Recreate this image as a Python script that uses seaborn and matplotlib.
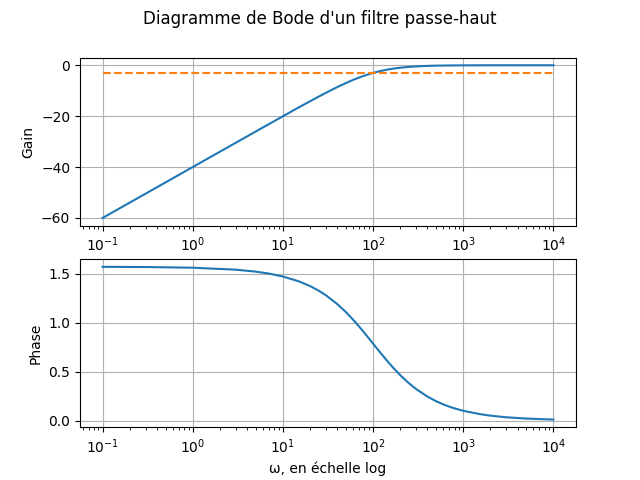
import numpy as np
import pandas as pd
import matplotlib
matplotlib.use("Agg")
import matplotlib.pyplot as plt
import seaborn as sns

# pulsations (rad/s) and values
omega = [0.1, 0.3, 1, 3, 5, 7, 10, 15, 20, 25, 30, 40, 50, 60, 70, 80, 100,
         120, 150, 170, 200, 250, 300, 400, 500, 600, 700, 800, 1000, 1500,
         2000, 3000, 5000, 10000]
gain = [-60.0, -50.46, -40.0, -30.46, -26.03, -23.12, -20.04, -16.55, -14.15,
        -12.30, -10.83, -8.60, -6.99, -5.77, -4.83, -4.09, -3.01, -2.29,
        -1.60, -1.29, -0.97, -0.65, -0.46, -0.26, -0.17, -0.12, -0.09, -0.07,
        -0.04, -0.02, -0.01, -0.005, -0.002, 0.0]
phase = [1.5698, 1.5678, 1.5608, 1.5408, 1.5208, 1.5009, 1.4711, 1.4219,
         1.3734, 1.3258, 1.2793, 1.1903, 1.1071, 1.0304, 0.9601, 0.8961,
         0.7854, 0.6947, 0.5880, 0.5317, 0.4636, 0.3805, 0.3218, 0.2450,
         0.1974, 0.1651, 0.1419, 0.1244, 0.0997, 0.0666, 0.0500, 0.0333,
         0.0200, 0.0100]
cutoff_level = [-3.0, -3.0]
cutoff_omega = [0.1, 10000]

df = pd.DataFrame({"omega": omega, "gain": gain, "phase": phase})
cut = pd.DataFrame({"omega": cutoff_omega, "level": cutoff_level})

fig, (ax1, ax2) = plt.subplots(2, 1, figsize=(6.4, 4.8), dpi=100)
fig.suptitle("Diagramme de Bode d'un filtre passe-haut")

sns.lineplot(data=df, x="omega", y="gain", ax=ax1, color="C0")
sns.lineplot(data=cut, x="omega", y="level", ax=ax1, color="C1", linestyle="--")
ax1.set_xscale("log")
ax1.set_ylabel("Gain")
ax1.set_xlabel("")
ax1.grid(True)

sns.lineplot(data=df, x="omega", y="phase", ax=ax2, color="C0")
ax2.set_xscale("log")
ax2.set_ylabel("Phase")
ax2.set_xlabel("ω, en échelle log")
ax2.grid(True)

fig.savefig("out.png", dpi=100)
